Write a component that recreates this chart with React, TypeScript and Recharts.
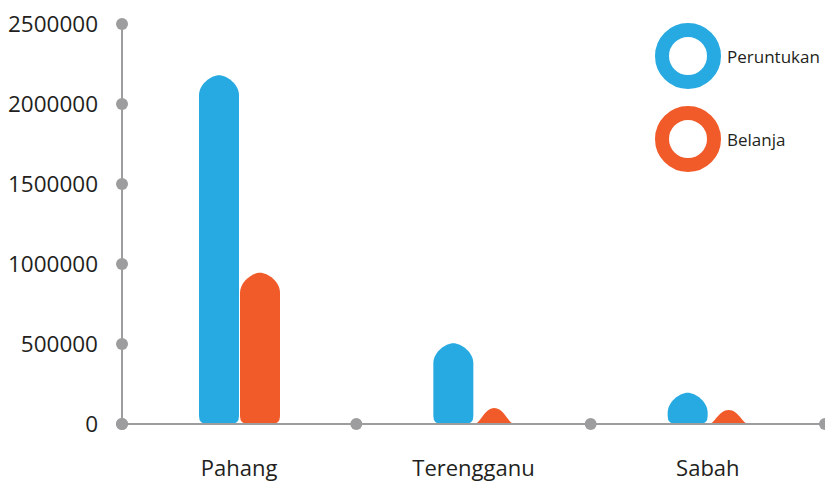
import { BarChart, Bar, XAxis, YAxis, ReferenceDot } from 'recharts';

const categories = ['Pahang', 'Terengganu', 'Sabah'];
const peruntukan = [2180000, 505000, 195000];
const belanja = [945000, 100000, 88000];
const yTicks = [0, 500000, 1000000, 1500000, 2000000, 2500000];
const boundaryTicks = [0, 1, 2, 3];

const BLUE = '#27aae1';
const ORANGE = '#f15a29';
const GREY = '#9d9d9f';
const FONT = '"Open Sans", "Noto Sans", sans-serif';

const series = [
  { key: 'peruntukan', name: 'Peruntukan', color: BLUE },
  { key: 'belanja', name: 'Belanja', color: ORANGE },
];

const data = categories.map((name, i) => ({
  name,
  idx: i + 0.5,
  peruntukan: peruntukan[i],
  belanja: belanja[i],
}));

// bar with a rounded, pointed top
function CapBar(props: any) {
  const { x, y, width: w, height: h, fill } = props;
  if (!h || h <= 0) return null;
  const bottom = y + h;
  const cap = 20;
  let d = '';
  if (h <= cap) {
    d = `M${x},${bottom} C${x + w * 0.15},${bottom} ${x + w * 0.25},${y} ${x + w / 2},${y}
      C${x + w * 0.75},${y} ${x + w * 0.85},${bottom} ${x + w},${bottom} Z`;
  } else {
    const r = Math.min(8, h - cap);
    d = `M${x + r},${bottom} Q${x},${bottom} ${x},${bottom - r} L${x},${y + cap}
      C${x},${y + cap * 0.45} ${x + w * 0.3},${y} ${x + w / 2},${y}
      C${x + w * 0.7},${y} ${x + w},${y + cap * 0.45} ${x + w},${y + cap}
      L${x + w},${bottom - r} Q${x + w},${bottom} ${x + w - r},${bottom} Z`;
  }
  return <path d={d} fill={fill} />;
}

function YTick(props: any) {
  const { x, y, payload } = props;
  return (
    <g>
      <circle cx={x} cy={y} r={6} fill={GREY} />
      <text x={x - 24} y={y} dy={8} textAnchor="end" fontSize={22.5} fontFamily={FONT} fill="#231f20">
        {payload.value}
      </text>
    </g>
  );
}

function CatTick(props: any) {
  const { x, y, payload } = props;
  return (
    <text x={x} y={y} dy={44} textAnchor="middle" fontSize={22} fontFamily={FONT} fill="#231f20">
      {payload.value}
    </text>
  );
}

export default function App() {
  return (
    <div style={{ position: 'fixed', left: 0, top: 0, width: 825, height: 483, background: '#fff' }}>
      <BarChart
        width={825}
        height={483}
        data={data}
        margin={{ top: 24, right: 0, left: 0, bottom: 0 }}
        barSize={40}
        barGap={1}
      >
        <XAxis
          dataKey="name"
          xAxisId="cat"
          axisLine={{ stroke: GREY, strokeWidth: 2 }}
          tickLine={false}
          tick={<CatTick />}
          height={59}
          interval={0}
        />
        <XAxis
          dataKey="idx"
          xAxisId="edge"
          type="number"
          domain={[0, 3]}
          ticks={boundaryTicks}
          orientation="top"
          height={0}
          hide
        />
        <YAxis
          width={122}
          domain={[0, 2500000]}
          ticks={yTicks}
          axisLine={{ stroke: GREY, strokeWidth: 2 }}
          tickLine={false}
          tickSize={0}
          tickMargin={0}
          tick={<YTick />}
          interval={0}
        />
        {series.map((s) => (
          <Bar
            key={s.key}
            dataKey={s.key}
            name={s.name}
            xAxisId="cat"
            fill={s.color}
            shape={<CapBar />}
            isAnimationActive={false}
          />
        ))}
        {boundaryTicks.map((t) => (
          <ReferenceDot
            key={t}
            xAxisId="edge"
            x={t}
            y={0}
            r={6}
            fill={GREY}
            stroke="none"
            ifOverflow="visible"
          />
        ))}
      </BarChart>
      {series.map((s, i) => (
        <div
          key={s.key}
          style={{ position: 'absolute', left: 655, top: 23 + i * 83, display: 'flex', alignItems: 'center' }}
        >
          <svg width={66} height={66}>
            <circle cx={33} cy={33} r={26} fill="none" stroke={s.color} strokeWidth={14} />
          </svg>
          <span style={{ marginLeft: 6, fontSize: 17, fontFamily: FONT, color: '#231f20' }}>{s.name}</span>
        </div>
      ))}
    </div>
  );
}
